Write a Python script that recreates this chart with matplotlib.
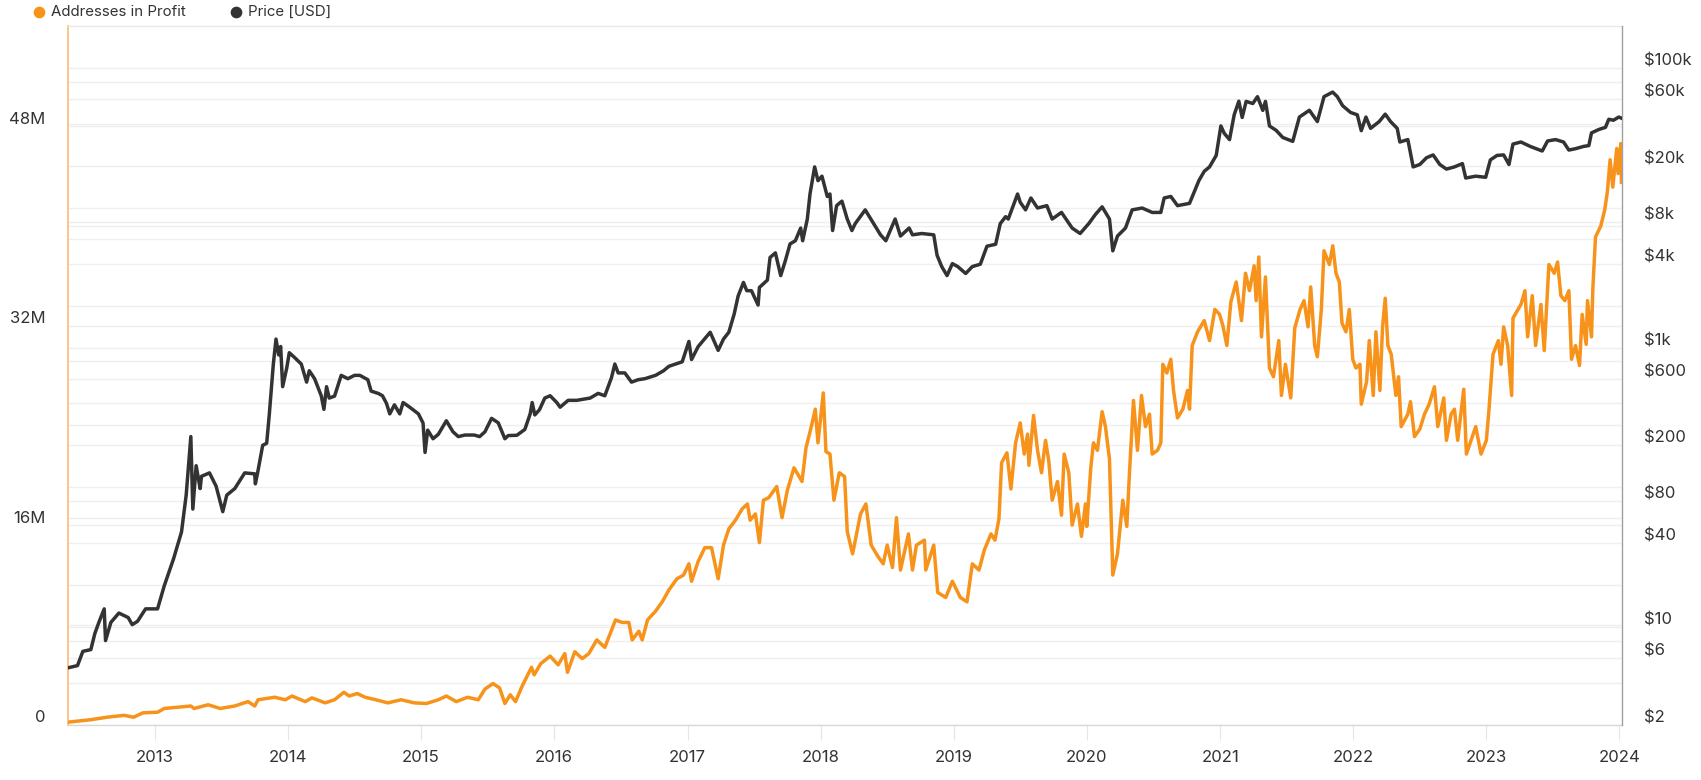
import matplotlib
matplotlib.use("Agg")
import matplotlib.pyplot as plt
import matplotlib.transforms as mtransforms
import matplotlib.dates as mdates
from matplotlib.lines import Line2D
from matplotlib.ticker import FixedLocator, FixedFormatter, NullLocator
from datetime import datetime

plt.rcParams['font.family'] = ['Inter', 'DejaVu Sans']

# ---------------- data ----------------
# Price [USD], dates as decimal years
price_year = [
    2012.346, 2012.42, 2012.46, 2012.52, 2012.55, 2012.58, 2012.62, 2012.63, 2012.67, 2012.73,
    2012.80, 2012.83, 2012.87, 2012.93, 2013.02, 2013.07, 2013.14, 2013.20, 2013.235, 2013.27,
    2013.285, 2013.31, 2013.34, 2013.35, 2013.41, 2013.46, 2013.51, 2013.54, 2013.60, 2013.675,
    2013.75, 2013.755, 2013.775, 2013.81, 2013.84, 2013.86, 2013.89, 2013.91, 2013.93, 2013.945,
    2013.96, 2013.99, 2014.01, 2014.05, 2014.10, 2014.14, 2014.16, 2014.20, 2014.25, 2014.27,
    2014.29, 2014.31, 2014.35, 2014.40, 2014.45, 2014.50, 2014.54, 2014.60, 2014.625, 2014.68,
    2014.71, 2014.74, 2014.765, 2014.80, 2014.84, 2014.865, 2014.915, 2014.98, 2015.015, 2015.03,
    2015.05, 2015.09, 2015.13, 2015.19, 2015.24, 2015.28, 2015.33, 2015.40, 2015.44, 2015.48,
    2015.53, 2015.58, 2015.63, 2015.655, 2015.72, 2015.78, 2015.82, 2015.835, 2015.855, 2015.89,
    2015.93, 2015.97, 2016.02, 2016.045, 2016.105, 2016.17, 2016.27, 2016.33, 2016.38, 2016.43,
    2016.455, 2016.48, 2016.53, 2016.58, 2016.63, 2016.68, 2016.76, 2016.82, 2016.86, 2016.96,
    2017.01, 2017.03, 2017.08, 2017.17, 2017.23, 2017.27, 2017.31, 2017.35, 2017.38, 2017.42,
    2017.445, 2017.48, 2017.53, 2017.54, 2017.60, 2017.62, 2017.66, 2017.70, 2017.735, 2017.77,
    2017.81, 2017.85, 2017.865, 2017.90, 2017.92, 2017.955, 2017.98, 2018.01, 2018.05, 2018.07,
    2018.09, 2018.12, 2018.16, 2018.20, 2018.235, 2018.26, 2018.335, 2018.385, 2018.45, 2018.49,
    2018.56, 2018.60, 2018.665, 2018.69, 2018.76, 2018.85, 2018.875, 2018.91, 2018.95, 2018.99,
    2019.03, 2019.09, 2019.14, 2019.20, 2019.25, 2019.315, 2019.35, 2019.39, 2019.41, 2019.48,
    2019.50, 2019.54, 2019.58, 2019.63, 2019.70, 2019.74, 2019.81, 2019.89, 2019.95, 2020.015,
    2020.065, 2020.115, 2020.17, 2020.195, 2020.23, 2020.29, 2020.34, 2020.415, 2020.49, 2020.555,
    2020.58, 2020.63, 2020.68, 2020.77, 2020.805, 2020.84, 2020.88, 2020.92, 2020.97, 2021.005,
    2021.03, 2021.07, 2021.105, 2021.14, 2021.165, 2021.195, 2021.245, 2021.28, 2021.32, 2021.34,
    2021.37, 2021.42, 2021.47, 2021.545, 2021.595, 2021.67, 2021.73, 2021.78, 2021.845, 2021.88,
    2021.92, 2021.98, 2022.03, 2022.06, 2022.095, 2022.13, 2022.195, 2022.24, 2022.28, 2022.33,
    2022.35, 2022.41, 2022.45, 2022.50, 2022.55, 2022.60, 2022.65, 2022.70, 2022.76, 2022.82,
    2022.845, 2022.92, 2022.995, 2023.03, 2023.08, 2023.13, 2023.17, 2023.20, 2023.26, 2023.33,
    2023.42, 2023.46, 2023.52, 2023.58, 2023.62, 2023.67, 2023.73, 2023.77, 2023.79, 2023.845,
    2023.895, 2023.92, 2023.955, 2023.995, 2024.015,
]
price_usd = [
    5.1, 5.3, 6.7, 6.9, 9.0, 10.8, 13.5, 8.0, 10.8, 12.6,
    11.7, 10.4, 11.0, 13.5, 13.5, 19.7, 30.8, 48, 88, 231,
    70, 143, 98, 120, 127, 102, 67, 88, 98, 127,
    125, 106, 132, 200, 207, 336, 764, 1153, 888, 1020,
    526, 710, 921, 850, 764, 567, 684, 600, 453, 362,
    526, 436, 450, 634, 600, 634, 634, 590, 489, 470,
    453, 400, 336, 390, 336, 405, 375, 336, 289, 178,
    257, 223, 240, 300, 250, 231, 237, 237, 231, 250,
    312, 290, 223, 235, 236, 260, 336, 405, 330, 360,
    436, 453, 405, 375, 420, 420, 436, 471, 453, 611,
    764, 660, 660, 567, 590, 600, 634, 684, 736, 793,
    1109, 823, 1020, 1290, 957, 1153, 1290, 1738, 2344, 2933,
    2560, 2560, 2020, 2700, 3050, 4425, 4775, 3283, 4200, 5535,
    5830, 7190, 5830, 8340, 12590, 19700, 15700, 16900, 12100, 12600,
    6900, 10400, 11200, 8340, 6900, 7740, 9700, 8120, 6430, 5830,
    8340, 6300, 7190, 6430, 6570, 6430, 4590, 3810, 3283, 4000,
    3810, 3400, 3810, 3960, 5330, 5500, 7740, 8670, 8340, 12600,
    11000, 9700, 11800, 10000, 10400, 8340, 9300, 7190, 6570, 7740,
    9000, 10200, 8340, 4940, 6300, 7190, 9700, 10000, 9300, 9300,
    11800, 12100, 10400, 10800, 13000, 15700, 18300, 19700, 23800, 38700,
    34300, 30900, 46500, 58200, 44500, 58000, 56000, 62700, 50000, 58000,
    38700, 36000, 32000, 30000, 44800, 50100, 41600, 62700, 67600, 62700,
    54000, 48300, 46500, 35800, 44800, 37200, 41600, 47000, 41600, 37200,
    29700, 30900, 19700, 20500, 22900, 24000, 20500, 19000, 19700, 20800,
    16400, 16900, 16600, 22100, 23800, 24000, 20500, 28700, 29700, 27600,
    25600, 30200, 30900, 29700, 26000, 26600, 27600, 28000, 34500, 36500,
    37800, 43200, 42500, 44800, 44000,
]

# Addresses in Profit [millions], dates as decimal years
addr_year = [
    2012.346, 2012.52, 2012.64, 2012.77, 2012.84, 2012.91, 2013.02, 2013.07, 2013.17, 2013.27,
    2013.295, 2013.40, 2013.49, 2013.60, 2013.70, 2013.75, 2013.775, 2013.90, 2013.98, 2014.03,
    2014.13, 2014.18, 2014.28, 2014.35, 2014.42, 2014.46, 2014.52, 2014.58, 2014.66, 2014.75,
    2014.85, 2014.95, 2015.04, 2015.13, 2015.19, 2015.265, 2015.35, 2015.43, 2015.48, 2015.54,
    2015.59, 2015.63, 2015.67, 2015.71, 2015.76, 2015.83, 2015.85, 2015.90, 2015.97, 2016.03,
    2016.08, 2016.10, 2016.155, 2016.21, 2016.26, 2016.32, 2016.38, 2016.46, 2016.51, 2016.56,
    2016.585, 2016.635, 2016.66, 2016.70, 2016.76, 2016.81, 2016.86, 2016.92, 2016.97, 2017.01,
    2017.03, 2017.08, 2017.13, 2017.18, 2017.23, 2017.27, 2017.31, 2017.36, 2017.41, 2017.45,
    2017.47, 2017.51, 2017.54, 2017.57, 2017.61, 2017.67, 2017.71, 2017.75, 2017.80, 2017.86,
    2017.89, 2017.93, 2017.96, 2017.98, 2018.02, 2018.04, 2018.07, 2018.10, 2018.14, 2018.18,
    2018.20, 2018.24, 2018.30, 2018.34, 2018.38, 2018.43, 2018.47, 2018.50, 2018.54, 2018.57,
    2018.60, 2018.66, 2018.69, 2018.72, 2018.78, 2018.79, 2018.85, 2018.88, 2018.94, 2018.99,
    2019.05, 2019.10, 2019.14, 2019.19, 2019.23, 2019.28, 2019.31, 2019.34, 2019.36, 2019.40,
    2019.43, 2019.465, 2019.50, 2019.53, 2019.555, 2019.565, 2019.60, 2019.63, 2019.66, 2019.69,
    2019.715, 2019.74, 2019.78, 2019.81, 2019.83, 2019.865, 2019.89, 2019.93, 2019.96, 2019.99,
    2020.00, 2020.03, 2020.05, 2020.08, 2020.115, 2020.14, 2020.17, 2020.195, 2020.23, 2020.27,
    2020.30, 2020.32, 2020.35, 2020.38, 2020.41, 2020.44, 2020.47, 2020.49, 2020.53, 2020.555,
    2020.57, 2020.60, 2020.63, 2020.65, 2020.68, 2020.72, 2020.755, 2020.77, 2020.79, 2020.83,
    2020.88, 2020.92, 2020.96, 2020.995, 2021.02, 2021.05, 2021.08, 2021.12, 2021.16, 2021.19,
    2021.22, 2021.255, 2021.27, 2021.29, 2021.31, 2021.34, 2021.37, 2021.40, 2021.44, 2021.46,
    2021.49, 2021.53, 2021.56, 2021.60, 2021.63, 2021.66, 2021.68, 2021.71, 2021.73, 2021.76,
    2021.78, 2021.82, 2021.846, 2021.87, 2021.895, 2021.915, 2021.945, 2021.97, 2021.996, 2022.02,
    2022.05, 2022.06, 2022.10, 2022.12, 2022.15, 2022.17, 2022.20, 2022.22, 2022.24, 2022.26,
    2022.285, 2022.32, 2022.34, 2022.36, 2022.41, 2022.43, 2022.46, 2022.50, 2022.535, 2022.57,
    2022.61, 2022.635, 2022.68, 2022.70, 2022.735, 2022.76, 2022.785, 2022.83, 2022.85, 2022.885,
    2022.92, 2022.96, 2023.00, 2023.02, 2023.05, 2023.09, 2023.11, 2023.13, 2023.16, 2023.19,
    2023.20, 2023.26, 2023.29, 2023.31, 2023.345, 2023.37, 2023.41, 2023.435, 2023.47, 2023.51,
    2023.535, 2023.56, 2023.59, 2023.62, 2023.64, 2023.67, 2023.70, 2023.72, 2023.75, 2023.76,
    2023.79, 2023.80, 2023.82, 2023.86, 2023.89, 2023.91, 2023.93, 2023.95, 2023.98, 2023.99,
    2024.01, 2024.015,
]
addr_m = [
    0.2, 0.4, 0.6, 0.75, 0.6, 0.95, 1.0, 1.3, 1.4, 1.5,
    1.3, 1.6, 1.3, 1.5, 1.85, 1.5, 2.0, 2.2, 2.0, 2.3,
    1.85, 2.15, 1.75, 2.0, 2.6, 2.3, 2.5, 2.2, 2.0, 1.75,
    2.0, 1.75, 1.7, 2.0, 2.3, 1.85, 2.2, 2.0, 2.85, 3.3,
    2.95, 1.7, 2.4, 1.85, 3.1, 4.6, 4.0, 4.9, 5.5, 4.8,
    5.7, 4.2, 5.85, 5.3, 5.7, 6.8, 6.2, 8.4, 8.2, 8.2,
    6.8, 7.5, 6.8, 8.4, 9.1, 9.85, 10.8, 11.7, 12.0, 12.9,
    11.5, 13.1, 14.2, 14.2, 11.7, 14.4, 15.7, 16.4, 17.3, 17.7,
    16.4, 16.9, 14.6, 18.0, 18.2, 19.1, 16.6, 18.8, 20.6, 19.5,
    22.2, 23.9, 25.3, 22.6, 26.6, 21.9, 21.7, 18.0, 20.2, 19.9,
    15.5, 13.7, 16.9, 17.7, 14.4, 13.5, 12.9, 14.4, 12.6, 16.6,
    12.4, 15.3, 12.4, 14.4, 14.8, 12.4, 14.4, 10.6, 10.2, 11.5,
    10.2, 9.85, 12.9, 12.4, 14.0, 15.3, 14.8, 16.5, 21.0, 21.8,
    18.9, 22.6, 24.2, 21.7, 23.3, 20.8, 24.8, 22.0, 20.2, 22.8,
    21.1, 18.0, 19.5, 16.8, 21.7, 20.2, 16.0, 17.7, 15.1, 17.7,
    15.9, 20.6, 22.6, 22.0, 25.1, 23.9, 21.3, 12.0, 13.7, 18.0,
    15.9, 20.2, 26.0, 22.0, 26.4, 23.9, 24.9, 21.7, 22.0, 22.6,
    28.9, 28.2, 29.3, 26.8, 24.6, 25.3, 26.8, 25.3, 30.4, 31.5,
    32.4, 30.8, 33.3, 32.9, 32.0, 30.4, 33.9, 35.5, 32.4, 36.2,
    34.8, 36.8, 34.0, 37.5, 31.1, 35.9, 28.6, 27.9, 30.8, 26.4,
    28.9, 26.2, 31.8, 33.3, 34.0, 31.9, 35.1, 30.4, 29.5, 33.3,
    38.0, 36.9, 38.4, 36.2, 35.5, 32.2, 31.5, 33.3, 29.3, 28.6,
    28.9, 25.7, 27.5, 30.8, 26.4, 31.5, 26.8, 31.9, 34.2, 30.4,
    29.7, 26.4, 27.9, 23.9, 24.9, 25.9, 23.1, 23.7, 24.9, 25.7,
    27.1, 23.9, 26.2, 22.8, 24.9, 25.3, 22.8, 26.9, 21.7, 22.8,
    23.9, 21.7, 22.8, 25.3, 29.7, 30.8, 28.9, 31.9, 30.4, 26.4,
    32.6, 33.7, 34.8, 31.1, 34.4, 30.4, 33.7, 30.0, 36.9, 36.2,
    37.1, 34.4, 34.0, 34.8, 29.3, 30.4, 28.8, 32.9, 30.5, 34.0,
    31.1, 34.9, 39.1, 40.0, 41.3, 42.8, 45.3, 43.1, 46.2, 44.2,
    46.6, 43.5,
]

# axis ticks / labels
year_ticks = list(range(2013, 2025))
addr_ticks = [0, 16, 32, 48]
addr_tick_labels = ['0', '16M', '32M', '48M']
addr_grid = [8, 24, 40]
price_ticks = [2, 6, 10, 40, 80, 200, 600, 1000, 4000, 8000, 20000, 60000, 100000]
price_tick_labels = ['$2', '$6', '$10', '$40', '$80', '$200', '$600', '$1k', '$4k',
                     '$8k', '$20k', '$60k', '$100k']
price_grid = [4, 6, 8, 10, 20, 40, 60, 80, 100, 200, 400, 600, 800, 1000, 2000, 4000,
              6000, 8000, 10000, 20000, 40000, 60000, 80000, 100000]

ORANGE = '#F7931A'
BLACK = '#333333'
TEXT = '#333333'
GRID = '#efefef'


def to_dt(y):
    yr = int(y)
    start = datetime(yr, 1, 1)
    end = datetime(yr + 1, 1, 1)
    return start + (end - start) * (y - yr)


price_dates = [to_dt(v) for v in price_year]
addr_dates = [to_dt(v) for v in addr_year]

# ---------------- figure ----------------
W_PX, H_PX = 1701, 780
fig = plt.figure(figsize=(W_PX / 100, H_PX / 100), dpi=100)
left, right, top, bottom = 67.5, 1621.7, 26.3, 724.7
ax = fig.add_axes([left / W_PX, 1 - bottom / H_PX, (right - left) / W_PX, (bottom - top) / H_PX])
ax2 = ax.twinx()

ax.set_axisbelow(True)
ax.plot(addr_dates, addr_m, color=ORANGE, lw=2.5, zorder=3, solid_joinstyle='round')
ax2.plot(price_dates, price_usd, color=BLACK, lw=2.5, zorder=3, solid_joinstyle='round')

# x axis
ax.set_xlim(to_dt(2012.345), to_dt(2024.017))
ax.xaxis.set_major_locator(FixedLocator(mdates.date2num([datetime(y, 1, 1) for y in year_ticks])))
ax.xaxis.set_major_formatter(mdates.DateFormatter('%Y'))
ax.tick_params(axis='x', length=10.5, width=0.8, color='#e6e6e6', pad=8,
               labelsize=12, labelcolor=TEXT)

# left axis (addresses)
ax.set_ylim(0, 56)
ax.yaxis.set_major_locator(FixedLocator(addr_ticks))
ax.yaxis.set_major_formatter(FixedFormatter(addr_tick_labels))
ax.yaxis.set_minor_locator(FixedLocator(addr_grid))
ax.tick_params(axis='y', which='both', length=0, pad=16, labelsize=12, labelcolor=TEXT)
ax.grid(axis='y', which='both', color=GRID, lw=1.0)

# right axis (price, log)
ax2.set_yscale('log')
ax2.set_ylim(2, 200000)
ax2.yaxis.set_major_locator(FixedLocator(price_ticks))
ax2.yaxis.set_major_formatter(FixedFormatter(price_tick_labels))
ax2.yaxis.set_minor_locator(NullLocator())
ax2.tick_params(axis='y', which='both', length=0, pad=16, labelsize=12, labelcolor=TEXT)
ax2.grid(False)

# price gridlines drawn in the lower axes so they sit below both series
blend = mtransforms.blended_transform_factory(ax.transAxes, ax2.transData)
for v in price_grid:
    ax.add_line(Line2D([0, 1], [v, v], transform=blend, color=GRID, lw=1.0, zorder=0.5))

# spines
for s in ['top', 'bottom', 'left', 'right']:
    ax2.spines[s].set_visible(False)
ax.spines['right'].set_visible(False)
ax2.spines['right'].set_visible(True)
ax2.spines['right'].set_color('#a0a0a0')
ax2.spines['right'].set_linewidth(1.0)
ax.spines['left'].set_color('#fbc488')
ax.spines['left'].set_linewidth(1.4)
ax.spines['top'].set_color('#e8e8e8')
ax.spines['top'].set_linewidth(1.0)
ax.spines['bottom'].set_color('#d8d8d8')
ax.spines['bottom'].set_linewidth(1.0)

# y tick labels sit slightly above their gridlines
offset = mtransforms.ScaledTranslation(0, 8.5 / 100, fig.dpi_scale_trans)
for lab in ax.get_yticklabels() + ax2.get_yticklabels():
    lab.set_transform(lab.get_transform() + offset)

# legend (top-left)
ly = 1 - 12.3 / H_PX
fig.add_artist(Line2D([39.3 / W_PX], [ly], transform=fig.transFigure, marker='o',
                      markersize=7.4, color=ORANGE, lw=0))
fig.text(50.5 / W_PX, ly, 'Addresses in Profit', ha='left', va='center',
         fontsize=10.8, color=TEXT)
fig.add_artist(Line2D([236 / W_PX], [ly], transform=fig.transFigure, marker='o',
                      markersize=7.4, color=BLACK, lw=0))
fig.text(248 / W_PX, ly, 'Price [USD]', ha='left', va='center', fontsize=10.8, color=TEXT)

fig.savefig('out.png', dpi=100)
